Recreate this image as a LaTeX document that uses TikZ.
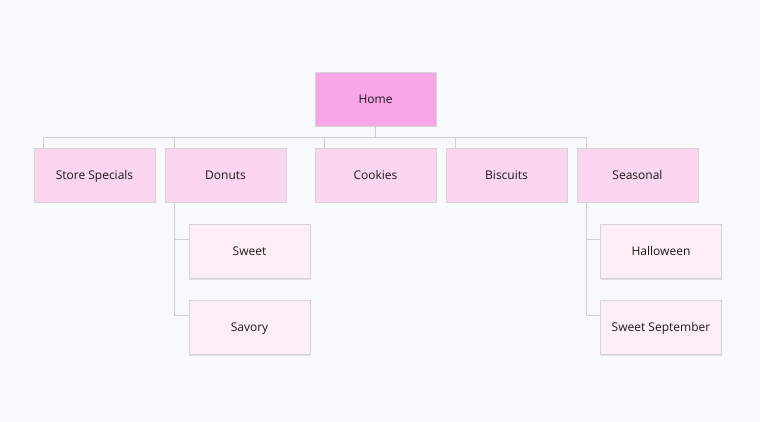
\documentclass[tikz,border=0pt]{standalone}
\usepackage{fontspec}
\setmainfont{Open Sans}
\usepackage{tikz}
\usetikzlibrary{shadows}
\definecolor{bbg}{HTML}{F8F9FB}
\definecolor{hhome}{HTML}{F9A6E9}
\definecolor{ppink}{HTML}{F9D5EF}
\definecolor{llpink}{HTML}{FDEEF6}
\definecolor{eedge}{HTML}{D6D2D6}
\definecolor{llink}{HTML}{CFCFD2}
\definecolor{ttext}{HTML}{1A1A1A}

\tikzset{
  page/.style={minimum width=121pt, minimum height=54pt, draw=eedge, line width=0.8pt,
    text=ttext, font=\fontsize{12}{14}\selectfont, inner sep=2pt,
    text height=9pt, text depth=0pt,
    drop shadow={shadow xshift=0pt, shadow yshift=-1.5pt, opacity=0.10, fill=black}},
  link/.style={draw=llink, line width=0.9pt}
}

\begin{document}
\begin{tikzpicture}[x=1pt, y=-1pt]
\fill[bbg] (0,0) rectangle (760,422);
\useasboundingbox (0,0) rectangle (760,422);

% top level
\node[page, fill=hhome] (home) at (375.5,99) {Home};

% second level
\node[page, fill=ppink] (specials) at (94.5,175) {Store Specials};
\node[page, fill=ppink] (donuts) at (225.5,175) {Donuts};
\node[page, fill=ppink] (cookies) at (375.5,175) {Cookies};
\node[page, fill=ppink] (biscuits) at (506.5,175) {Biscuits};
\node[page, fill=ppink] (seasonal) at (637.5,175) {Seasonal};

% third level
\node[page, fill=llpink] (sweet) at (249.5,251) {Sweet};
\node[page, fill=llpink] (savory) at (249.5,327) {Savory};
\node[page, fill=llpink] (halloween) at (661,251) {Halloween};
\node[page, fill=llpink] (september) at (661,327) {Sweet September};

% links to home
\foreach \n in {specials,donuts,cookies,biscuits,seasonal}
\draw[link] (home.south) -- ++(0,11) -| ([xshift=10pt]\n.north west);

% links to children
\draw[link] ([xshift=10pt]donuts.south west) |- ([yshift=-16pt]savory.north west);
\draw[link] ([xshift=10pt]donuts.south west) |- ([yshift=-16pt]sweet.north west);
\draw[link] ([xshift=10pt]seasonal.south west) |- ([yshift=-16pt]september.north west);
\draw[link] ([xshift=10pt]seasonal.south west) |- ([yshift=-16pt]halloween.north west);
\end{tikzpicture}
\end{document}
